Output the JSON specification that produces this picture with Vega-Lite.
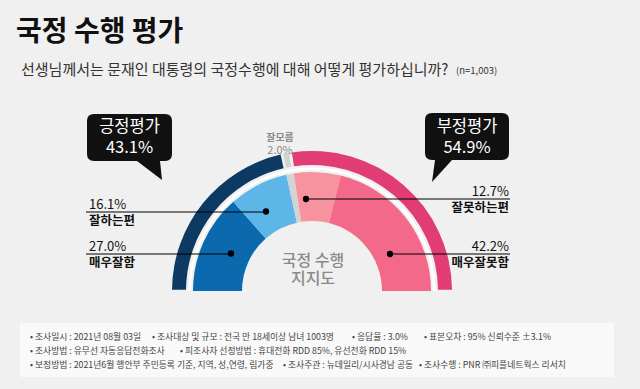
{
  "$schema": "https://vega.github.io/schema/vega-lite/v6.json",
  "width": 640,
  "height": 389,
  "autosize": {"type": "fit", "contains": "padding"},
  "padding": 0,
  "background": "#f0f0f0",
  "config": {
    "view": {"stroke": null},
    "axis": {"disable": true},
    "text": {"font": "Noto Sans CJK KR"}
  },
  "datasets": {
    "outer": [
      {"label": "긍정평가", "value": 0.431, "order": 1},
      {"label": "잘모름", "value": 0.02, "order": 2},
      {"label": "부정평가", "value": 0.549, "order": 3}
    ],
    "inner": [
      {"label": "매우잘함", "value": 0.27, "order": 1},
      {"label": "잘하는편", "value": 0.161, "order": 2},
      {"label": "잘모름", "value": 0.02, "order": 3},
      {"label": "잘못하는편", "value": 0.127, "order": 4},
      {"label": "매우잘못함", "value": 0.422, "order": 5}
    ]
  },
  "layer": [
    {
      "data": {"values": [{}]},
      "mark": {"type": "rect", "color": "#f9f9f9"},
      "encoding": {
        "x": {"datum": 20, "type": "quantitative", "scale": {"domain": [0, 640], "nice": false, "zero": false}},
        "x2": {"datum": 614},
        "y": {"datum": 323, "type": "quantitative", "scale": {"domain": [0, 389], "nice": false, "zero": false, "reverse": true}},
        "y2": {"datum": 377}
      }
    },
    {
      "data": {"name": "outer"},
      "mark": {"type": "arc", "outerRadius": 140, "innerRadius": 126, "padAngle": 0.014},
      "encoding": {
        "x": {"datum": 312, "type": "quantitative"},
        "y": {"datum": 291, "type": "quantitative"},
        "theta": {"field": "value", "type": "quantitative", "stack": true, "scale": {"domain": [0, 1], "range": [-1.5708, 1.5708]}},
        "order": {"field": "order", "type": "quantitative"},
        "color": {
          "field": "label", "type": "nominal", "legend": null,
          "scale": {
            "domain": ["긍정평가", "잘모름", "부정평가", "매우잘함", "잘하는편", "잘못하는편", "매우잘못함"],
            "range": ["#0d3a62", "#d3d3d3", "#e13c73", "#0b69ad", "#5db6e7", "#f7939f", "#f2698a"]
          }
        }
      }
    },
    {
      "data": {"values": [{}]},
      "mark": {"type": "arc", "theta": -1.5708, "theta2": 1.5708, "outerRadius": 123.5, "innerRadius": 121, "color": "#ffffff"},
      "encoding": {
        "x": {"datum": 312, "type": "quantitative"},
        "y": {"datum": 291, "type": "quantitative"}
      }
    },
    {
      "data": {"name": "inner"},
      "mark": {"type": "arc", "outerRadius": 119, "innerRadius": 70},
      "encoding": {
        "x": {"datum": 312, "type": "quantitative"},
        "y": {"datum": 291, "type": "quantitative"},
        "theta": {"field": "value", "type": "quantitative", "stack": true},
        "order": {"field": "order", "type": "quantitative"},
        "color": {"field": "label", "type": "nominal", "legend": null}
      }
    },
    {
      "data": {"values": [{}]},
      "layer": [
        {
          "mark": {"type": "text", "fontSize": 16, "fontWeight": 500, "color": "#8a8a8a", "align": "center", "baseline": "middle"},
          "encoding": {
            "x": {"datum": 313, "type": "quantitative"},
            "y": {"datum": 261, "type": "quantitative"},
            "text": {"value": "국정 수행"}
          }
        },
        {
          "mark": {"type": "text", "fontSize": 16, "fontWeight": 500, "color": "#8a8a8a", "align": "center", "baseline": "middle"},
          "encoding": {
            "x": {"datum": 313, "type": "quantitative"},
            "y": {"datum": 279, "type": "quantitative"},
            "text": {"value": "지지도"}
          }
        }
      ]
    },
    {
      "data": {"name": "outer"},
      "transform": [{"filter": "datum.label === '잘모름'"}],
      "layer": [
        {
          "mark": {"type": "text", "fontSize": 10, "fontWeight": "bold", "color": "#8a8a8a", "align": "center", "baseline": "middle"},
          "encoding": {
            "x": {"datum": 280, "type": "quantitative"},
            "y": {"datum": 138, "type": "quantitative"},
            "text": {"field": "label"}
          }
        },
        {
          "mark": {"type": "text", "fontSize": 11, "color": "#8a8a8a", "align": "center", "baseline": "middle"},
          "encoding": {
            "x": {"datum": 280, "type": "quantitative"},
            "y": {"datum": 151, "type": "quantitative"},
            "text": {"field": "value", "format": ".1%"}
          }
        }
      ]
    },
    {
      "data": {"name": "outer"},
      "transform": [{"filter": "datum.label === '긍정평가'"}],
      "layer": [
        {
          "mark": {"type": "point", "filled": true, "opacity": 1, "size": 4, "color": "#111111", "strokeWidth": 0,
            "shape": "M -35.5 -23.5 L 35.5 -23.5 Q 42.5 -23.5 42.5 -16.5 L 42.5 16.5 Q 42.5 23.5 35.5 23.5 L 30.5 23.5 L 32.5 42.5 L 7.5 23.5 L -35.5 23.5 Q -42.5 23.5 -42.5 16.5 L -42.5 -16.5 Q -42.5 -23.5 -35.5 -23.5 Z"},
          "encoding": {
            "x": {"datum": 129.5, "type": "quantitative"},
            "y": {"datum": 137.5, "type": "quantitative"}
          }
        },
        {
          "mark": {"type": "text", "fontSize": 16.5, "color": "#ffffff", "align": "center", "baseline": "middle"},
          "encoding": {
            "x": {"datum": 129.5, "type": "quantitative"},
            "y": {"datum": 127, "type": "quantitative"},
            "text": {"field": "label"}
          }
        },
        {
          "mark": {"type": "text", "fontSize": 16.5, "color": "#ffffff", "align": "center", "baseline": "middle"},
          "encoding": {
            "x": {"datum": 129.5, "type": "quantitative"},
            "y": {"datum": 148, "type": "quantitative"},
            "text": {"field": "value", "format": ".1%"}
          }
        }
      ]
    },
    {
      "data": {"name": "outer"},
      "transform": [{"filter": "datum.label === '부정평가'"}],
      "layer": [
        {
          "mark": {"type": "point", "filled": true, "opacity": 1, "size": 4, "color": "#111111", "strokeWidth": 0,
            "shape": "M -35 -23.5 L 35 -23.5 Q 42 -23.5 42 -16.5 L 42 16.5 Q 42 23.5 35 23.5 L -15 23.5 L -35 45.5 L -32 23.5 L -35 23.5 Q -42 23.5 -42 16.5 L -42 -16.5 Q -42 -23.5 -35 -23.5 Z"},
          "encoding": {
            "x": {"datum": 467, "type": "quantitative"},
            "y": {"datum": 136.5, "type": "quantitative"}
          }
        },
        {
          "mark": {"type": "text", "fontSize": 16.5, "color": "#ffffff", "align": "center", "baseline": "middle"},
          "encoding": {
            "x": {"datum": 467, "type": "quantitative"},
            "y": {"datum": 127, "type": "quantitative"},
            "text": {"field": "label"}
          }
        },
        {
          "mark": {"type": "text", "fontSize": 16.5, "color": "#ffffff", "align": "center", "baseline": "middle"},
          "encoding": {
            "x": {"datum": 467, "type": "quantitative"},
            "y": {"datum": 148, "type": "quantitative"},
            "text": {"field": "value", "format": ".1%"}
          }
        }
      ]
    },
    {
      "data": {"name": "inner"},
      "transform": [{"filter": "datum.label === '잘하는편'"}],
      "layer": [
        {
          "mark": {"type": "rule", "color": "#000000", "strokeWidth": 1.2},
          "encoding": {
            "x": {"datum": 86, "type": "quantitative"},
            "x2": {"datum": 266},
            "y": {"datum": 212, "type": "quantitative"}
          }
        },
        {
          "mark": {"type": "circle", "color": "#000000", "opacity": 1, "size": 40},
          "encoding": {
            "x": {"datum": 266, "type": "quantitative"},
            "y": {"datum": 211.5, "type": "quantitative"}
          }
        },
        {
          "mark": {"type": "text", "fontSize": 13, "color": "#111111", "align": "left", "baseline": "middle"},
          "encoding": {
            "x": {"datum": 89, "type": "quantitative"},
            "y": {"datum": 204.5, "type": "quantitative"},
            "text": {"field": "value", "format": ".1%"}
          }
        },
        {
          "mark": {"type": "text", "fontSize": 12.5, "fontWeight": "bold", "color": "#111111", "align": "left", "baseline": "middle"},
          "encoding": {
            "x": {"datum": 89, "type": "quantitative"},
            "y": {"datum": 220.5, "type": "quantitative"},
            "text": {"field": "label"}
          }
        }
      ]
    },
    {
      "data": {"name": "inner"},
      "transform": [{"filter": "datum.label === '매우잘함'"}],
      "layer": [
        {
          "mark": {"type": "rule", "color": "#000000", "strokeWidth": 1.2},
          "encoding": {
            "x": {"datum": 86, "type": "quantitative"},
            "x2": {"datum": 231},
            "y": {"datum": 254, "type": "quantitative"}
          }
        },
        {
          "mark": {"type": "circle", "color": "#000000", "opacity": 1, "size": 40},
          "encoding": {
            "x": {"datum": 231, "type": "quantitative"},
            "y": {"datum": 253.5, "type": "quantitative"}
          }
        },
        {
          "mark": {"type": "text", "fontSize": 13, "color": "#111111", "align": "left", "baseline": "middle"},
          "encoding": {
            "x": {"datum": 89, "type": "quantitative"},
            "y": {"datum": 246.5, "type": "quantitative"},
            "text": {"field": "value", "format": ".1%"}
          }
        },
        {
          "mark": {"type": "text", "fontSize": 12.5, "fontWeight": "bold", "color": "#111111", "align": "left", "baseline": "middle"},
          "encoding": {
            "x": {"datum": 89, "type": "quantitative"},
            "y": {"datum": 262.5, "type": "quantitative"},
            "text": {"field": "label"}
          }
        }
      ]
    },
    {
      "data": {"name": "inner"},
      "transform": [{"filter": "datum.label === '잘못하는편'"}],
      "layer": [
        {
          "mark": {"type": "rule", "color": "#000000", "strokeWidth": 1.2},
          "encoding": {
            "x": {"datum": 306, "type": "quantitative"},
            "x2": {"datum": 510},
            "y": {"datum": 199, "type": "quantitative"}
          }
        },
        {
          "mark": {"type": "circle", "color": "#000000", "opacity": 1, "size": 40},
          "encoding": {
            "x": {"datum": 306, "type": "quantitative"},
            "y": {"datum": 199, "type": "quantitative"}
          }
        },
        {
          "mark": {"type": "text", "fontSize": 13, "color": "#111111", "align": "right", "baseline": "middle"},
          "encoding": {
            "x": {"datum": 509, "type": "quantitative"},
            "y": {"datum": 191.5, "type": "quantitative"},
            "text": {"field": "value", "format": ".1%"}
          }
        },
        {
          "mark": {"type": "text", "fontSize": 12.5, "fontWeight": "bold", "color": "#111111", "align": "right", "baseline": "middle"},
          "encoding": {
            "x": {"datum": 509, "type": "quantitative"},
            "y": {"datum": 207.5, "type": "quantitative"},
            "text": {"field": "label"}
          }
        }
      ]
    },
    {
      "data": {"name": "inner"},
      "transform": [{"filter": "datum.label === '매우잘못함'"}],
      "layer": [
        {
          "mark": {"type": "rule", "color": "#000000", "strokeWidth": 1.2},
          "encoding": {
            "x": {"datum": 390, "type": "quantitative"},
            "x2": {"datum": 510},
            "y": {"datum": 254, "type": "quantitative"}
          }
        },
        {
          "mark": {"type": "circle", "color": "#000000", "opacity": 1, "size": 40},
          "encoding": {
            "x": {"datum": 390, "type": "quantitative"},
            "y": {"datum": 254, "type": "quantitative"}
          }
        },
        {
          "mark": {"type": "text", "fontSize": 13, "color": "#111111", "align": "right", "baseline": "middle"},
          "encoding": {
            "x": {"datum": 509, "type": "quantitative"},
            "y": {"datum": 246.5, "type": "quantitative"},
            "text": {"field": "value", "format": ".1%"}
          }
        },
        {
          "mark": {"type": "text", "fontSize": 12.5, "fontWeight": "bold", "color": "#111111", "align": "right", "baseline": "middle"},
          "encoding": {
            "x": {"datum": 509, "type": "quantitative"},
            "y": {"datum": 262.5, "type": "quantitative"},
            "text": {"field": "label"}
          }
        }
      ]
    },
    {
      "data": {"values": [{}]},
      "layer": [
        {
          "mark": {"type": "text", "fontSize": 28, "fontWeight": "bold", "color": "#111111", "align": "left", "baseline": "middle"},
          "encoding": {
            "x": {"datum": 16, "type": "quantitative"},
            "y": {"datum": 33, "type": "quantitative"},
            "text": {"value": "국정 수행 평가"}
          }
        },
        {
          "mark": {"type": "text", "fontSize": 15, "color": "#333333", "align": "left", "baseline": "middle"},
          "encoding": {
            "x": {"datum": 21, "type": "quantitative"},
            "y": {"datum": 70, "type": "quantitative"},
            "text": {"value": "선생님께서는 문재인 대통령의 국정수행에 대해 어떻게 평가하십니까?"}
          }
        },
        {
          "mark": {"type": "text", "fontSize": 9.5, "color": "#333333", "align": "left", "baseline": "middle"},
          "encoding": {
            "x": {"datum": 456, "type": "quantitative"},
            "y": {"datum": 71, "type": "quantitative"},
            "text": {"value": "(n=1,003)"}
          }
        }
      ]
    },
    {
      "data": {"values": [{}]},
      "layer": [
        {
          "mark": {"type": "text", "fontSize": 8.8, "color": "#444444", "align": "left", "baseline": "middle"},
          "encoding": {"x": {"datum": 30, "type": "quantitative"}, "y": {"datum": 337, "type": "quantitative"}, "text": {"value": "• 조사일시 : 2021년 08월 03일"}}
        },
        {
          "mark": {"type": "text", "fontSize": 8.8, "color": "#444444", "align": "left", "baseline": "middle"},
          "encoding": {"x": {"datum": 152, "type": "quantitative"}, "y": {"datum": 337, "type": "quantitative"}, "text": {"value": "• 조사대상 및 규모 : 전국 만 18세이상  남녀  1003명"}}
        },
        {
          "mark": {"type": "text", "fontSize": 8.8, "color": "#444444", "align": "left", "baseline": "middle"},
          "encoding": {"x": {"datum": 352, "type": "quantitative"}, "y": {"datum": 337, "type": "quantitative"}, "text": {"value": "• 응답율 :  3.0%"}}
        },
        {
          "mark": {"type": "text", "fontSize": 8.8, "color": "#444444", "align": "left", "baseline": "middle"},
          "encoding": {"x": {"datum": 424, "type": "quantitative"}, "y": {"datum": 337, "type": "quantitative"}, "text": {"value": "• 표본오차 : 95% 신뢰수준 ±3.1%"}}
        },
        {
          "mark": {"type": "text", "fontSize": 8.8, "color": "#444444", "align": "left", "baseline": "middle"},
          "encoding": {"x": {"datum": 30, "type": "quantitative"}, "y": {"datum": 351, "type": "quantitative"}, "text": {"value": "• 조사방법 : 유무선 자동응답전화조사"}}
        },
        {
          "mark": {"type": "text", "fontSize": 8.8, "color": "#444444", "align": "left", "baseline": "middle"},
          "encoding": {"x": {"datum": 180, "type": "quantitative"}, "y": {"datum": 351, "type": "quantitative"}, "text": {"value": "• 피조사자 선정방법 : 휴대전화 RDD  85%, 유선전화 RDD  15%"}}
        },
        {
          "mark": {"type": "text", "fontSize": 8.8, "color": "#444444", "align": "left", "baseline": "middle"},
          "encoding": {"x": {"datum": 30, "type": "quantitative"}, "y": {"datum": 365, "type": "quantitative"}, "text": {"value": "• 보정방법 : 2021년6월  행안부 주민등록 기준,  지역, 성,연령,  림가중"}}
        },
        {
          "mark": {"type": "text", "fontSize": 8.8, "color": "#444444", "align": "left", "baseline": "middle"},
          "encoding": {"x": {"datum": 283, "type": "quantitative"}, "y": {"datum": 365, "type": "quantitative"}, "text": {"value": "• 조사주관 : 뉴데일리/시사경남 공동"}}
        },
        {
          "mark": {"type": "text", "fontSize": 8.8, "color": "#444444", "align": "left", "baseline": "middle"},
          "encoding": {"x": {"datum": 419, "type": "quantitative"}, "y": {"datum": 365, "type": "quantitative"}, "text": {"value": "• 조사수행 : PNR ㈜피플네트웍스 리서치"}}
        }
      ]
    }
  ]
}
